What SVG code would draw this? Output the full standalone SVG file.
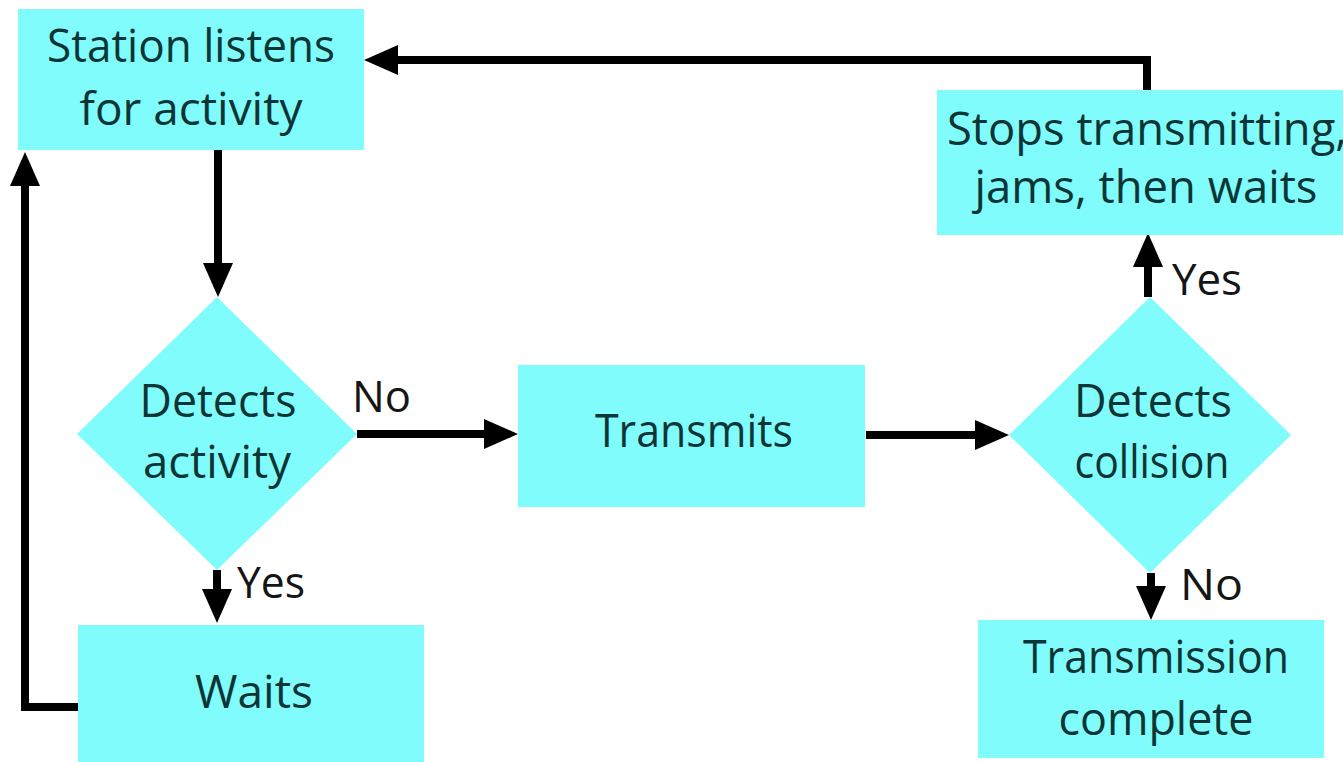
<svg xmlns="http://www.w3.org/2000/svg" width="1343" height="762" viewBox="0 0 1343 762">
<style>
.box{fill:#80fcfc;}
.lbl{font-family:"Open Sans","Liberation Sans",sans-serif;font-size:45px;fill:#0c3535;text-anchor:middle;}
.edge{font-family:"Open Sans","Liberation Sans",sans-serif;font-size:44px;fill:#151515;}
.conn{fill:none;stroke:#000;stroke-width:8;}
</style>
<defs>
<marker id="ah" viewBox="0 0 34 30" refX="14" refY="15" markerWidth="34" markerHeight="30" markerUnits="userSpaceOnUse" orient="auto">
<path d="M0,0 L34,15 L0,30 z" fill="#000"/>
</marker>
</defs>
<rect width="1343" height="762" fill="#fff"/>
<g id="connectors">
<path class="conn" d="M218,150 V277" marker-end="url(#ah)"/>
<path class="conn" d="M357,434 H498" marker-end="url(#ah)"/>
<path class="conn" d="M217,570 V603" marker-end="url(#ah)"/>
<path class="conn" d="M79,707 H25 V172" marker-end="url(#ah)"/>
<path class="conn" d="M866,435 H989" marker-end="url(#ah)"/>
<path class="conn" d="M1148,297 V253" marker-end="url(#ah)"/>
<path class="conn" d="M1151,573 V600" marker-end="url(#ah)"/>
<path class="conn" d="M1147,90 V60 H384" marker-end="url(#ah)"/>
<text class="edge" x="352" y="412" textLength="59" lengthAdjust="spacingAndGlyphs">No</text>
<text class="edge" x="237" y="598" textLength="68" lengthAdjust="spacingAndGlyphs">Yes</text>
<text class="edge" x="1172" y="295" textLength="70" lengthAdjust="spacingAndGlyphs">Yes</text>
<text class="edge" x="1180" y="600" textLength="63" lengthAdjust="spacingAndGlyphs">No</text>
</g>
<g id="listen">
<rect class="box" x="18" y="9" width="346" height="141"/>
<text class="lbl" x="191" y="62" textLength="288" lengthAdjust="spacingAndGlyphs">Station listens</text>
<text class="lbl" x="191" y="125" textLength="223" lengthAdjust="spacingAndGlyphs">for activity</text>
</g>
<g id="detectActivity">
<polygon class="box" points="217,297 357,434 217,570 77,434"/>
<text class="lbl" x="218" y="417" textLength="157" lengthAdjust="spacingAndGlyphs">Detects</text>
<text class="lbl" x="217" y="478" textLength="148" lengthAdjust="spacingAndGlyphs">activity</text>
</g>
<g id="transmits">
<rect class="box" x="518" y="365" width="347" height="142"/>
<text class="lbl" x="694" y="447" textLength="198" lengthAdjust="spacingAndGlyphs">Transmits</text>
</g>
<g id="detectCollision">
<polygon class="box" points="1150,297 1291,435 1150,573 1009,435"/>
<text class="lbl" x="1153" y="417" textLength="158" lengthAdjust="spacingAndGlyphs">Detects</text>
<text class="lbl" x="1152" y="478" textLength="155" lengthAdjust="spacingAndGlyphs">collision</text>
</g>
<g id="stops">
<rect class="box" x="937" y="90" width="406" height="145"/>
<text class="lbl" x="1147" y="145" textLength="400" lengthAdjust="spacingAndGlyphs">Stops transmitting,</text>
<text class="lbl" x="1146" y="203" textLength="343" lengthAdjust="spacingAndGlyphs">jams, then waits</text>
</g>
<g id="waits">
<rect class="box" x="78" y="625" width="346" height="137"/>
<text class="lbl" x="254" y="708" textLength="118" lengthAdjust="spacingAndGlyphs">Waits</text>
</g>
<g id="complete">
<rect class="box" x="978" y="620" width="346" height="138"/>
<text class="lbl" x="1156" y="673" textLength="266" lengthAdjust="spacingAndGlyphs">Transmission</text>
<text class="lbl" x="1156" y="735" textLength="195" lengthAdjust="spacingAndGlyphs">complete</text>
</g>
</svg>
